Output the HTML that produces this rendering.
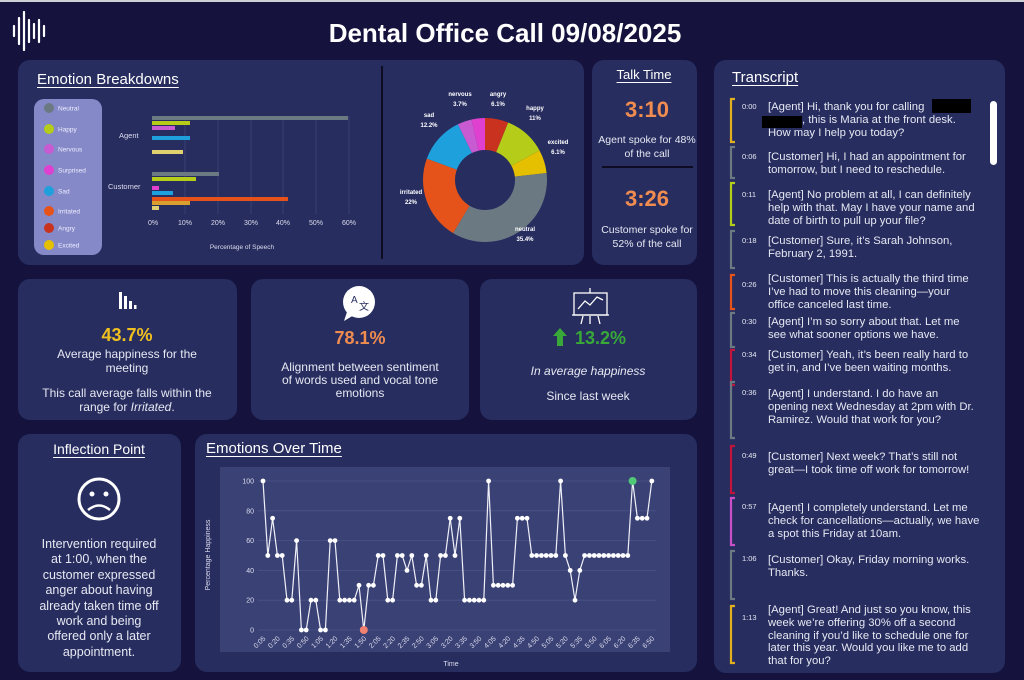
<!DOCTYPE html>
<html><head><meta charset="utf-8"><style>
*{margin:0;padding:0;box-sizing:border-box}
body{width:1024px;height:680px;background:#15133d;font-family:"Liberation Sans",sans-serif;color:#e6e8f2;position:relative;overflow:hidden}
.card{position:absolute;background:#272d5f;border-radius:12px}
.t{position:absolute;white-space:nowrap;line-height:1}
.c{transform:translateX(-50%);text-align:center}
.u{text-decoration:underline;text-underline-offset:3px}
</style></head><body>
<div style="position:absolute;left:0;top:0;width:1024px;height:2px;background:#cfcfd6"></div>
<svg style="position:absolute;left:10px;top:10px" width="40" height="42">
<g stroke="#fff" stroke-width="2.2" stroke-linecap="round">
<line x1="4" y1="16" x2="4" y2="26"/><line x1="9" y1="8" x2="9" y2="34"/><line x1="14" y1="2" x2="14" y2="40"/><line x1="19" y1="10" x2="19" y2="32"/><line x1="24" y1="14" x2="24" y2="28"/><line x1="29" y1="10" x2="29" y2="32"/><line x1="34" y1="16" x2="34" y2="26"/></g></svg>
<div class="t c" style="left:505px;top:20px;font-size:26px;font-weight:bold;color:#fff">Dental Office Call 09/08/2025</div>

<div class="card" style="left:18px;top:60px;width:566px;height:205px"></div>
<div class="card" style="left:592px;top:60px;width:105px;height:205px"></div>
<div class="card" style="left:714px;top:60px;width:291px;height:613px"></div>
<div class="card" style="left:18px;top:279px;width:219px;height:141px"></div>
<div class="card" style="left:251px;top:279px;width:218px;height:141px"></div>
<div class="card" style="left:480px;top:279px;width:217px;height:141px"></div>
<div class="card" style="left:18px;top:434px;width:163px;height:238px"></div>
<div class="card" style="left:195px;top:434px;width:502px;height:238px"></div>

<div class="t u" style="left:37px;top:72px;font-size:15px;color:#fff">Emotion Breakdowns</div>
<svg style="position:absolute;left:0;top:0" width="1024" height="680" id="main">
<rect x="34" y="99" width="68" height="156" rx="10" fill="#8589c8"/>
<g font-size="6.5" fill="#eef" font-family="Liberation Sans">
<circle cx="49" cy="108" r="5" fill="#6b7a82"/><text x="58" y="110.5">Neutral</text>
<circle cx="49" cy="129" r="5" fill="#b5cc18"/><text x="58" y="131.5">Happy</text>
<circle cx="49" cy="149" r="5" fill="#c85ad2"/><text x="58" y="151.5">Nervous</text>
<circle cx="49" cy="170" r="5" fill="#e040d0"/><text x="58" y="172.5">Surprised</text>
<circle cx="49" cy="191" r="5" fill="#1ea0dc"/><text x="58" y="193.5">Sad</text>
<circle cx="49" cy="211" r="5" fill="#e5531a"/><text x="58" y="213.5">Irritated</text>
<circle cx="49" cy="228" r="5" fill="#c8321e"/><text x="58" y="230.5">Angry</text>
<circle cx="49" cy="245" r="5" fill="#e5c000"/><text x="58" y="247.5">Excited</text>
</g>
<g stroke="#3c4478" stroke-width="0.8">
<line x1="185" y1="116" x2="185" y2="214"/><line x1="218" y1="116" x2="218" y2="214"/><line x1="251" y1="116" x2="251" y2="214"/><line x1="283" y1="116" x2="283" y2="214"/><line x1="316" y1="116" x2="316" y2="214"/><line x1="349" y1="116" x2="349" y2="214"/>
</g>
<g>
<rect x="152" y="116" width="196" height="4" fill="#6b7a82"/>
<rect x="152" y="121" width="38" height="4" fill="#b5cc18"/>
<rect x="152" y="126" width="23" height="4" fill="#c85ad2"/>
<rect x="152" y="136" width="38" height="4" fill="#1ea0dc"/>
<rect x="152" y="150" width="31" height="4" fill="#e0d070"/>
<rect x="152" y="172" width="67" height="4" fill="#6b7a82"/>
<rect x="152" y="177" width="44" height="4" fill="#b5cc18"/>
<rect x="152" y="186" width="7" height="4" fill="#e040d0"/>
<rect x="152" y="191" width="21" height="4" fill="#1ea0dc"/>
<rect x="152" y="197" width="136" height="4" fill="#e5531a"/>
<rect x="152" y="201" width="38" height="4" fill="#d9a030"/>
<rect x="152" y="206" width="7" height="4" fill="#e0d070"/>
</g>
<g font-size="7.5" fill="#dde" font-family="Liberation Sans">
<text x="119" y="138">Agent</text><text x="108" y="189">Customer</text>
<g text-anchor="middle" font-size="7"><text x="153" y="225">0%</text><text x="185" y="225">10%</text><text x="218" y="225">20%</text><text x="251" y="225">30%</text><text x="283" y="225">40%</text><text x="316" y="225">50%</text><text x="349" y="225">60%</text>
<text x="242" y="249" font-size="6.5">Percentage of Speech</text></g>
</g>
<line x1="382" y1="66" x2="382" y2="259" stroke="#0d0c22" stroke-width="2"/>
<g id="donut"></g>
<g font-size="6" font-weight="bold" fill="#fff" text-anchor="middle" font-family="Liberation Sans">
<text x="460" y="96">nervous</text><text x="460" y="106">3.7%</text>
<text x="498" y="96">angry</text><text x="498" y="106">6.1%</text>
<text x="535" y="110">happy</text><text x="535" y="120">11%</text>
<text x="558" y="144">excited</text><text x="558" y="154">6.1%</text>
<text x="525" y="231">neutral</text><text x="525" y="241">35.4%</text>
<text x="411" y="194">irritated</text><text x="411" y="204">22%</text>
<text x="429" y="117">sad</text><text x="429" y="127">12.2%</text>
</g>
<line x1="602" y1="167" x2="693" y2="167" stroke="#0d0c22" stroke-width="2"/>
<g fill="#fff"><rect x="119" y="292" width="3" height="17"/><rect x="124" y="296" width="3" height="13"/><rect x="129" y="301" width="3" height="8"/><rect x="134" y="305" width="2.5" height="4"/></g>
<circle cx="359" cy="302" r="16" fill="#fff"/><path d="M347 312 L344 321 L354 315 Z" fill="#fff"/>
<text x="351" y="303" font-size="10" fill="#272d5f" font-family="Liberation Sans">A</text><text x="359" y="310" font-size="10" fill="#272d5f" font-family="Noto Sans CJK SC">文</text>
<g stroke="#fff" stroke-width="1.3" fill="none"><rect x="574" y="293" width="33" height="22"/><line x1="572" y1="315" x2="609" y2="315"/><polyline points="578,309 585,301 590,305 597,297 603,300"/><line x1="590" y1="288" x2="590" y2="293"/><line x1="583" y1="316" x2="581" y2="324"/><line x1="590" y1="316" x2="590" y2="324"/><line x1="598" y1="316" x2="600" y2="324"/></g>
<path d="M557 346 L557 336 L553 336 L560 328 L567 336 L563 336 L563 346 Z" fill="#38a838"/>
<circle cx="99" cy="499" r="20" fill="none" stroke="#fff" stroke-width="3"/><circle cx="92" cy="494" r="2.5" fill="#fff"/><circle cx="106" cy="494" r="2.5" fill="#fff"/><path d="M88 510 Q99 501 110 510" stroke="#fff" stroke-width="2.5" fill="none"/>
<rect x="220" y="467" width="450" height="185" fill="#3a4275"/>
<g id="ot"></g>
<text transform="translate(210,555) rotate(-90)" font-size="7" fill="#dde" text-anchor="middle" font-family="Liberation Sans">Percentage Happiness</text>
<text x="451" y="666" font-size="7" fill="#dde" text-anchor="middle" font-family="Liberation Sans">Time</text>
<g id="br"></g>
<rect x="932" y="99" width="39" height="14" fill="#000"/><rect x="762" y="116" width="40" height="12" fill="#000"/>
<rect x="990" y="101" width="7" height="64" rx="3.5" fill="#fff"/>
</svg>

<div class="t c u" style="left:644px;top:68px;font-size:13px;color:#fff">Talk Time</div>
<div class="t c" style="left:647px;top:99px;font-size:22px;font-weight:bold;color:#f08c50">3:10</div>
<div class="t c" style="left:647px;top:133px;font-size:10.5px;line-height:14px">Agent spoke for 48%<br>of the call</div>
<div class="t c" style="left:647px;top:188px;font-size:22px;font-weight:bold;color:#f08c50">3:26</div>
<div class="t c" style="left:647px;top:223px;font-size:10.5px;line-height:14px">Customer spoke for<br>52% of the call</div>

<div class="t c" style="left:127px;top:326px;font-size:18px;font-weight:bold;color:#f0c020">43.7%</div>
<div class="t c" style="left:127px;top:348px;font-size:12px;line-height:13.5px">Average happiness for the<br>meeting</div>
<div class="t c" style="left:127px;top:387px;font-size:12px;line-height:13.5px">This call average falls within the<br>range for <i>Irritated</i>.</div>
<div class="t c" style="left:360px;top:329px;font-size:18px;font-weight:bold;color:#f08c50">78.1%</div>
<div class="t c" style="left:360px;top:361px;font-size:12px;line-height:13px">Alignment between sentiment<br>of words used and vocal tone<br>emotions</div>
<div class="t" style="left:575px;top:329px;font-size:18px;font-weight:bold;color:#38a838">13.2%</div>
<div class="t c" style="left:588px;top:365px;font-size:12px;font-style:italic">In average happiness</div>
<div class="t c" style="left:588px;top:390px;font-size:12px">Since last week</div>

<div class="t c u" style="left:99px;top:442px;font-size:14px;color:#fff">Inflection Point</div>
<div class="t c" style="left:99px;top:537px;font-size:12.5px;line-height:15.4px">Intervention required<br>at 1:00, when the<br>customer expressed<br>anger about having<br>already taken time off<br>work and being<br>offered only a later<br>appointment.</div>
<div class="t u" style="left:206px;top:441px;font-size:15px;color:#fff">Emotions Over Time</div>

<div class="t u" style="left:732px;top:70px;font-size:15px;color:#fff">Transcript</div>
<div id="tr"></div>

<script>
var NS="http://www.w3.org/2000/svg";
function el(p,t,a){var e=document.createElementNS(NS,t);for(var k in a)e.setAttribute(k,a[k]);p.appendChild(e);return e;}
var d=document.getElementById('donut'),cx=485,cy=180,R=62,r=30,a0=0;
[[6.1,'#c8321e'],[11,'#b5cc18'],[6.1,'#e5c000'],[35.4,'#6b7a82'],[22,'#e5531a'],[12.2,'#1ea0dc'],[3.7,'#c85ad2'],[3.5,'#e040d0']].forEach(function(s){
var a1=a0+s[0]/100*2*Math.PI;function P(rr,a){return (cx+rr*Math.sin(a)).toFixed(2)+','+(cy-rr*Math.cos(a)).toFixed(2);}
var lg=(a1-a0)>Math.PI?1:0;
el(d,'path',{d:'M'+P(R,a0)+' A'+R+','+R+' 0 '+lg+' 1 '+P(R,a1)+' L'+P(r,a1)+' A'+r+','+r+' 0 '+lg+' 0 '+P(r,a0)+' Z',fill:s[1]});a0=a1;});
var v=[100,50,75,50,50,20,20,60,0,0,20,20,0,0,60,60,20,20,20,20,30,0,30,30,50,50,20,20,50,50,40,50,30,30,50,20,20,50,50,75,50,75,20,20,20,20,20,100,30,30,30,30,30,75,75,75,50,50,50,50,50,50,100,50,40,20,40,50,50,50,50,50,50,50,50,50,50,100,75,75,75,100];
var g=document.getElementById('ot');
for(var k=0;k<=5;k++){var y=630-k*20*1.49;el(g,'line',{x1:258,x2:656,y1:y,y2:y,stroke:'#4a5386','stroke-width':0.8});
var t=el(g,'text',{x:254,y:y+2.5,'font-size':7,fill:'#dde','text-anchor':'end','font-family':'Liberation Sans'});t.textContent=k*20;}
var pts=v.map(function(x,i){return (263+4.8*i).toFixed(1)+','+(630-1.49*x).toFixed(1)}).join(' ');
el(g,'polyline',{points:pts,fill:'none',stroke:'#f0f0f8','stroke-width':1.2});
v.forEach(function(x,i){var X=263+4.8*i,Y=630-1.49*x;if(i==21)el(g,'circle',{cx:X,cy:Y,r:4,fill:'#f08070'});else if(i==77)el(g,'circle',{cx:X,cy:Y,r:4,fill:'#50c878'});else el(g,'circle',{cx:X,cy:Y,r:2.4,fill:'#fff'});
if(i%3==0){var s=5+5*i,lab=Math.floor(s/60)+':'+('0'+s%60).slice(-2);var tt=el(g,'text',{transform:'translate('+(X+3)+',639) rotate(-45)','font-size':7,fill:'#dde','text-anchor':'end','font-family':'Liberation Sans'});tt.textContent=lab;}});
var T=[['0:00',108,108,99,142,'#e0b020',['[Agent] Hi, thank you for calling','this is Maria at the front desk.','How may I help you today?']],
['0:06',158,158,147,178,'#6b7a82',['[Customer] Hi, I had an appointment for','tomorrow, but I need to reschedule.']],
['0:11',196,196,183,225,'#b5cc18',['[Agent] No problem at all, I can definitely','help with that. May I have your name and','date of birth to pull up your file?']],
['0:18',242,242,231,268,'#6b7a82',['[Customer] Sure, it\u2019s Sarah Johnson,','February 2, 1991.']],
['0:26',286,280,275,309,'#e5531a',['[Customer] This is actually the third time','I\u2019ve had to move this cleaning\u2014your','office canceled last time.']],
['0:30',323,323,313,347,'#6b7a82',['[Agent] I\u2019m so sorry about that. Let me','see what sooner options we have.']],
['0:34',356,356,350,385,'#c0143c',['[Customer] Yeah, it\u2019s been really hard to','get in, and I\u2019ve been waiting months.']],
['0:36',394,395,382,438,'#6b7a82',['[Agent] I understand. I do have an','opening next Wednesday at 2pm with Dr.','Ramirez. Would that work for you?']],
['0:49',457,458,446,493,'#c0143c',['[Customer] Next week? That\u2019s still not','great\u2014I took time off work for tomorrow!']],
['0:57',508,509,498,545,'#c850c8',['[Agent] I completely understand. Let me','check for cancellations\u2014actually, we have','a spot this Friday at 10am.']],
['1:06',560,561,551,599,'#6b7a82',['[Customer] Okay, Friday morning works.','Thanks.']],
['1:13',619,611,606,663,'#e0b020',['[Agent] Great! And just so you know, this','week we\u2019re offering 30% off a second','cleaning if you\u2019d like to schedule one for','later this year. Would you like me to add','that for you?']]];
var br=document.getElementById('br'),h='';
T.forEach(function(e){el(br,'path',{d:'M735,'+e[3]+' L731,'+e[3]+' L731,'+e[4]+' L735,'+e[4],stroke:e[5],'stroke-width':2.2,fill:'none'});
h+='<div class="t" style="left:742px;top:'+(e[1]-5)+'px;font-size:7.5px">'+e[0]+'</div>';
e[6].forEach(function(l,j){var L=l;if(e[0]=='0:00'&&j==1)L='<span style="margin-left:34px"></span>, '+l;h+='<div class="t" style="left:768px;top:'+(e[2]-6+j*12.8)+'px;font-size:11.3px">'+L+'</div>';});});
document.getElementById('tr').innerHTML=h;
</script>
</body></html>
